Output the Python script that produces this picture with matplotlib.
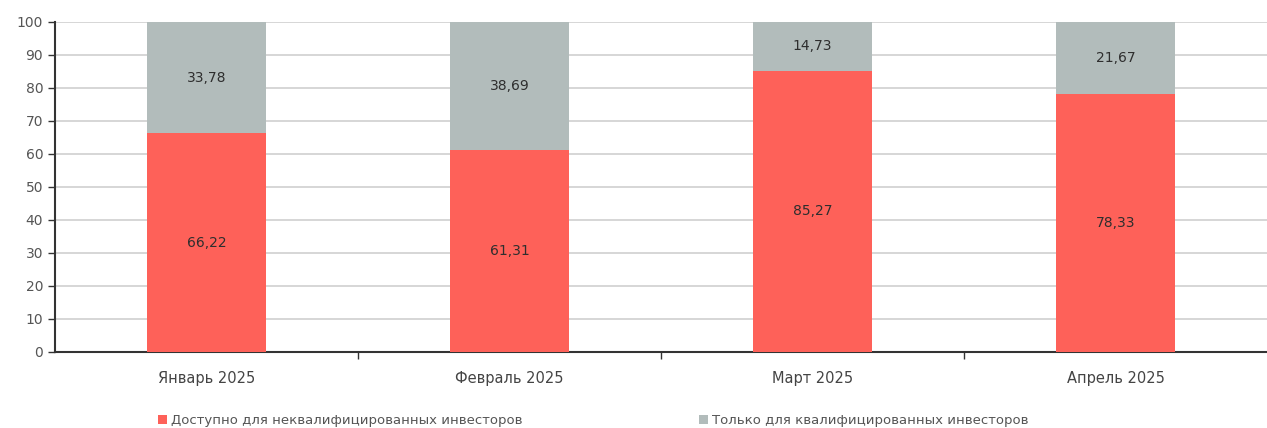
import matplotlib
matplotlib.use("Agg")
import matplotlib.pyplot as plt
import numpy as np

months = ["Январь 2025", "Февраль 2025", "Март 2025", "Апрель 2025"]
non_qual = [66.22, 61.31, 85.27, 78.33]
qual_only = [33.78, 38.69, 14.73, 21.67]
legend_labels = ["Доступно для неквалифицированных инвесторов",
                 "Только для квалифицированных инвесторов"]

red = "#fe6159"
gray = "#b2bcbb"

plt.rcParams['font.family'] = ['DejaVu Sans']

fig = plt.figure(figsize=(12.67, 4.28), dpi=100)
ax = fig.add_axes([0.0434, 0.1776, 0.9566, 0.771])

x = np.arange(len(months))
w = 0.395
b1 = ax.bar(x, non_qual, w, color=red, zorder=3)
b2 = ax.bar(x, qual_only, w, bottom=non_qual, color=gray, zorder=3)

# value labels, comma decimal
for i in range(len(months)):
    ax.text(x[i], non_qual[i] / 2, f"{non_qual[i]:.2f}".replace(".", ","),
            ha="center", va="center", fontsize=10, color="#2e2e2e", zorder=4)
    ax.text(x[i], non_qual[i] + qual_only[i] / 2, f"{qual_only[i]:.2f}".replace(".", ","),
            ha="center", va="center", fontsize=10, color="#2e2e2e", zorder=4)

ax.set_xlim(-0.5, 3.5)
ax.set_ylim(0, 100)
ax.set_yticks(range(0, 101, 10))
ax.tick_params(axis="y", labelsize=10, colors="#555555", length=5, width=1)
ax.yaxis.grid(True, color="#d0d0d0", linewidth=1.2, zorder=0)

# category labels centered, ticks on boundaries
ax.set_xticks(x)
ax.set_xticklabels(months, fontsize=10.5, color="#444444")
ax.tick_params(axis="x", length=0, pad=14)
ax.set_xticks(np.arange(0.5, 3.5, 1), minor=True)
ax.tick_params(axis="x", which="minor", length=5, width=1, color="#333333")

for s in ["top", "right"]:
    ax.spines[s].set_visible(False)
ax.spines["left"].set_color("#333333")
ax.spines["bottom"].set_color("#333333")
ax.spines["left"].set_linewidth(1.5)
ax.spines["bottom"].set_linewidth(1.5)
ax.tick_params(axis="y", color="#333333")

fig.legend([b1, b2], legend_labels, loc="lower left", bbox_to_anchor=(0.115, -0.025),
           ncol=2, frameon=False, fontsize=9.5, handlelength=0.7, handleheight=0.7,
           handletextpad=0.3, columnspacing=13.4, labelcolor="#555555")

fig.savefig("out.png", dpi=100)
